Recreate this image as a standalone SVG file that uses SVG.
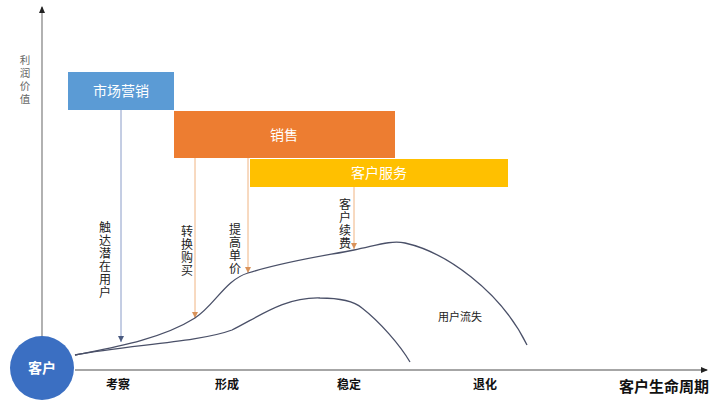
<svg xmlns="http://www.w3.org/2000/svg" width="720" height="409" viewBox="0 0 720 409">
<defs>
<style>
text{font-family:"Liberation Sans","Noto Sans CJK SC",sans-serif}
.box{font-size:14px;fill:#fff;text-anchor:middle}
.vt{font-size:12px;fill:#222;text-anchor:middle}
.stage{font-size:12px;font-weight:bold;fill:#111;text-anchor:middle}
.curve{fill:none;stroke:#4a5068;stroke-width:1.3}
.axis{stroke:#888;stroke-width:1.3;fill:none}
.bl{stroke:#8a9cc8;stroke-width:1}
.ol{stroke:#f0b482;stroke-width:1}
</style>
<marker id="ab" markerWidth="8" markerHeight="8" refX="6" refY="3" orient="auto" markerUnits="userSpaceOnUse"><path d="M0,0 L6,3 L0,6 z" fill="#4a5a80"/></marker>
<marker id="ao" markerWidth="8" markerHeight="8" refX="6" refY="3" orient="auto" markerUnits="userSpaceOnUse"><path d="M0,0 L6,3 L0,6 z" fill="#d9925a"/></marker>
<marker id="ax" markerWidth="8" markerHeight="8" refX="6" refY="3" orient="auto" markerUnits="userSpaceOnUse"><path d="M0,0 L7,3 L0,6 z" fill="#222"/></marker>
</defs>
<rect width="720" height="409" fill="#fff"/>
<g id="axes">
<line class="axis" x1="42" y1="337" x2="42" y2="7" marker-end="url(#ax)"/>
<line class="axis" x1="75" y1="370" x2="707" y2="370" marker-end="url(#ax)"/>
<text font-size="10.5" fill="#666" text-anchor="middle"><tspan x="25" y="64">利</tspan><tspan x="25" y="77">润</tspan><tspan x="25" y="90">价</tspan><tspan x="25" y="103">值</tspan></text>
<text x="664" y="392" font-size="15" font-weight="bold" fill="#111" text-anchor="middle">客户生命周期</text>
</g>
<g id="customer">
<circle cx="42" cy="368" r="32" fill="#3b6fc2"/>
<text x="42" y="373" font-size="14" font-weight="bold" fill="#fff" text-anchor="middle">客户</text>
</g>
<g id="marketing">
<rect x="68" y="72" width="106" height="38" fill="#5b9bd5"/>
<text class="box" x="121" y="96">市场营销</text>
</g>
<g id="sales">
<rect x="174" y="111" width="221" height="47" fill="#ed7d31"/>
<text class="box" x="284" y="140">销售</text>
</g>
<g id="service">
<rect x="250" y="159" width="258" height="28" fill="#ffc000"/>
<text class="box" x="379" y="178">客户服务</text>
</g>
<g id="connectors">
<line class="bl" x1="121" y1="110" x2="121" y2="342" marker-end="url(#ab)"/>
<line class="ol" x1="195" y1="158" x2="195" y2="318" marker-end="url(#ao)"/>
<line class="ol" x1="248" y1="158" x2="248" y2="273" marker-end="url(#ao)"/>
<line class="ol" x1="354" y1="187" x2="354" y2="249" marker-end="url(#ao)"/>
</g>
<g id="curves">
<path class="curve" d="M75,355 C110,348 160,340 195,318 C215,305 225,280 248,273 C290,260 330,255 354,250 C375,246 390,240 405,243 C445,252 500,290 527,345"/>
<path class="curve" d="M75,355 C130,345 200,342 232,330 C260,316 285,297 320,298 C340,298 355,302 362,308 C380,322 400,345 410,362"/>
</g>
<g id="labels">
<text class="vt"><tspan x="105" y="232">触</tspan><tspan x="105" y="245">达</tspan><tspan x="105" y="258">潜</tspan><tspan x="105" y="271">在</tspan><tspan x="105" y="284">用</tspan><tspan x="105" y="297">户</tspan></text>
<text class="vt"><tspan x="187" y="236">转</tspan><tspan x="187" y="249">换</tspan><tspan x="187" y="262">购</tspan><tspan x="187" y="275">买</tspan></text>
<text class="vt"><tspan x="235" y="234">提</tspan><tspan x="235" y="247">高</tspan><tspan x="235" y="260">单</tspan><tspan x="235" y="273">价</tspan></text>
<text class="vt" font-size="11"><tspan x="345" y="209">客</tspan><tspan x="345" y="222">户</tspan><tspan x="345" y="235">续</tspan><tspan x="345" y="248">费</tspan></text>
<text x="460" y="321" font-size="11" fill="#222" text-anchor="middle">用户流失</text>
<text class="stage" x="118" y="389">考察</text>
<text class="stage" x="227" y="389">形成</text>
<text class="stage" x="349" y="389">稳定</text>
<text class="stage" x="485" y="389">退化</text>
</g>
</svg>
